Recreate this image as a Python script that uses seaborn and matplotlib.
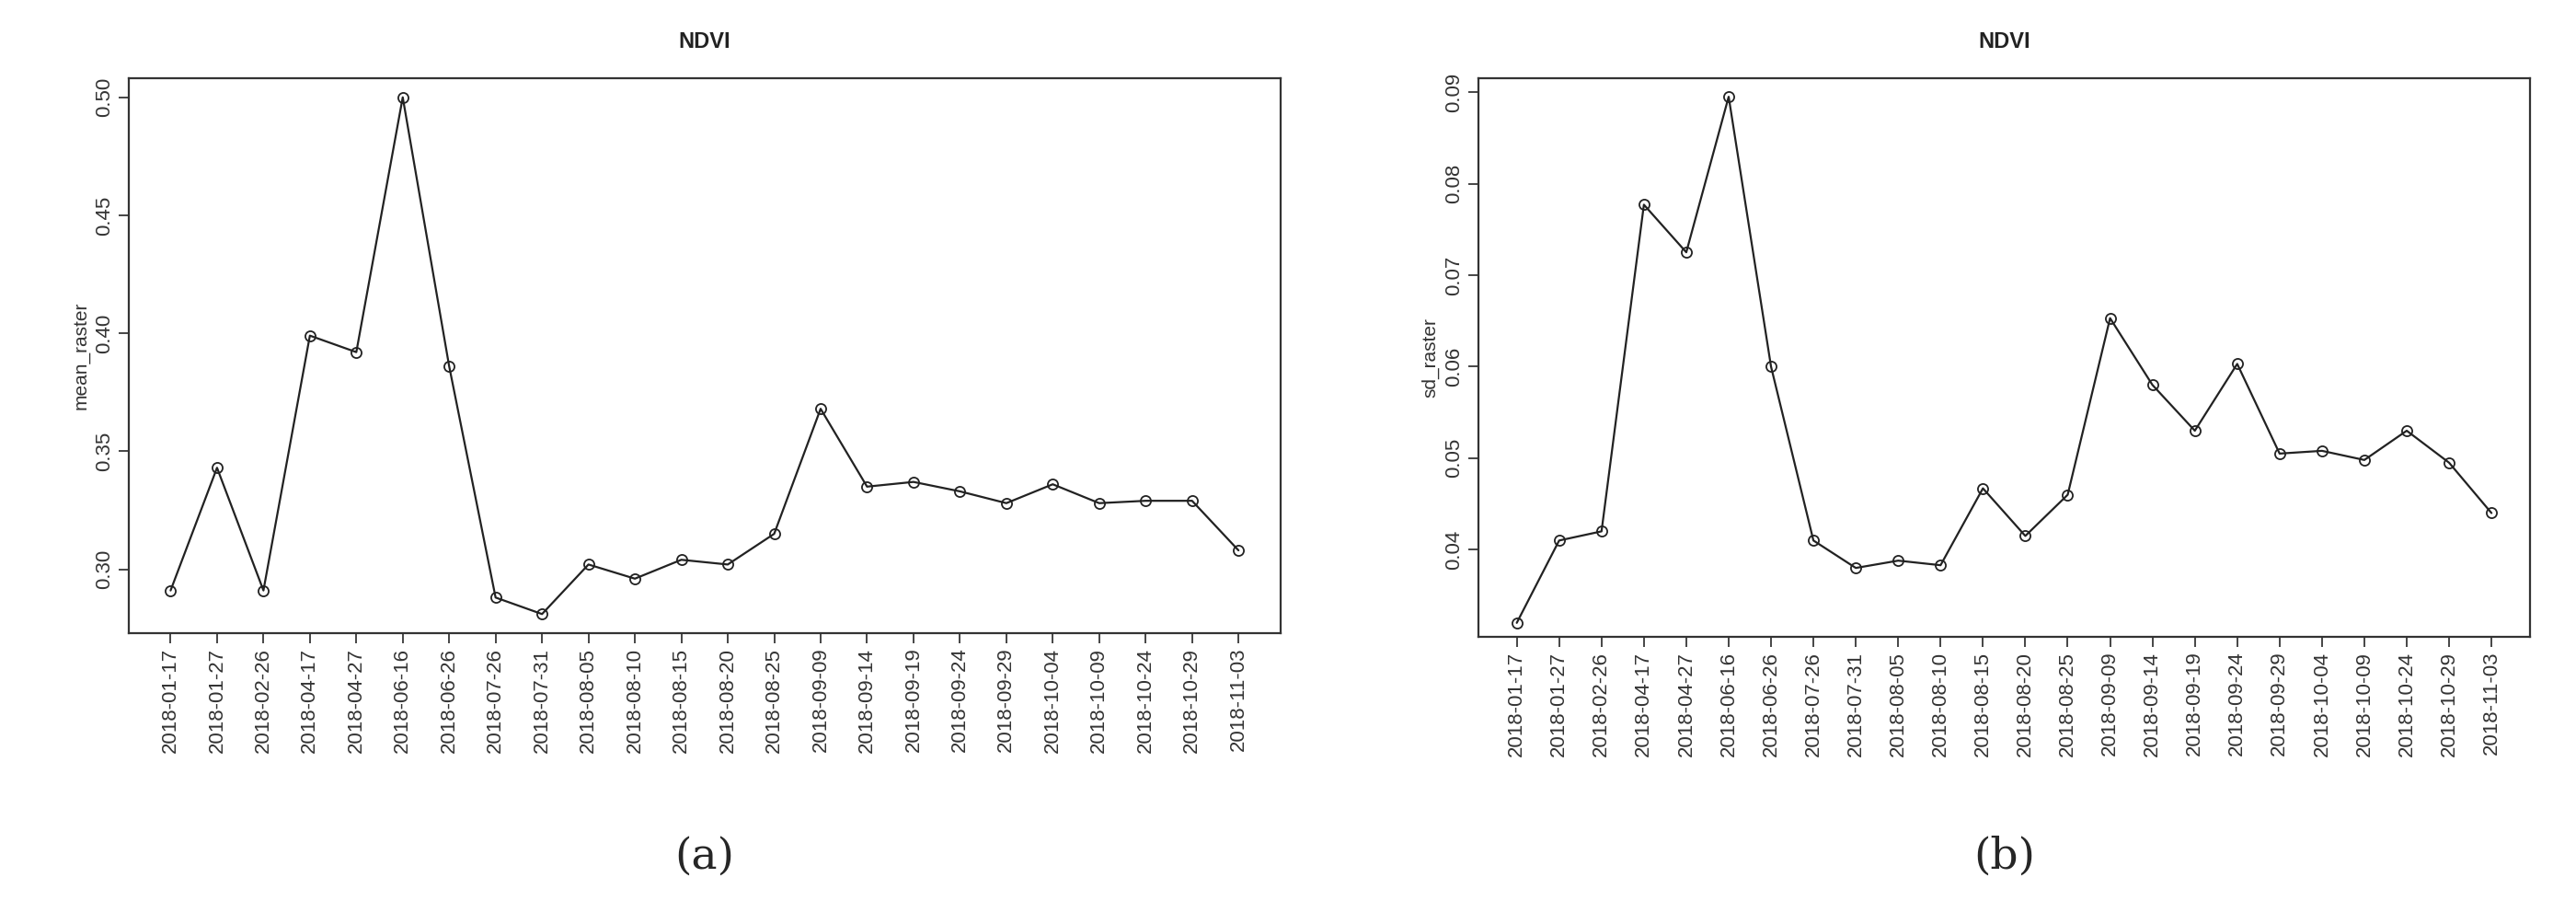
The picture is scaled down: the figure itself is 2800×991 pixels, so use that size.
import pandas as pd
import matplotlib
matplotlib.use("Agg")
import matplotlib.pyplot as plt
import seaborn as sns

# ---------- DATA ----------
DATES = ["2018-01-17", "2018-01-27", "2018-02-26", "2018-04-17", "2018-04-27",
         "2018-06-16", "2018-06-26", "2018-07-26", "2018-07-31", "2018-08-05",
         "2018-08-10", "2018-08-15", "2018-08-20", "2018-08-25", "2018-09-09",
         "2018-09-14", "2018-09-19", "2018-09-24", "2018-09-29", "2018-10-04",
         "2018-10-09", "2018-10-24", "2018-10-29", "2018-11-03"]
MEAN_RASTER = [0.291, 0.343, 0.291, 0.399, 0.392, 0.500, 0.386, 0.288, 0.281, 0.302,
               0.296, 0.304, 0.302, 0.315, 0.368, 0.335, 0.337, 0.333, 0.328, 0.336,
               0.328, 0.329, 0.329, 0.308]
SD_RASTER = [0.032, 0.041, 0.042, 0.0777, 0.0725, 0.0895, 0.060, 0.041, 0.038, 0.0388,
             0.0383, 0.0467, 0.0415, 0.046, 0.0653, 0.058, 0.053, 0.0603, 0.0505, 0.0508,
             0.0498, 0.053, 0.0495, 0.044]
MEAN_TICKS = [0.30, 0.35, 0.40, 0.45, 0.50]
SD_TICKS = [0.03, 0.04, 0.05, 0.06, 0.07, 0.08, 0.09]
# --------------------------

sns.set_style("ticks")
plt.rcParams['font.family'] = ['Liberation Sans', 'DejaVu Sans']

df = pd.DataFrame({"idx": range(len(DATES)), "date": DATES,
                   "mean_raster": MEAN_RASTER, "sd_raster": SD_RASTER})

fig = plt.figure(figsize=(28, 9.91), dpi=100)
ax_a = fig.add_axes([0.050, 0.306, 0.447, 0.608])
ax_b = fig.add_axes([0.574, 0.302, 0.408, 0.612])

panels = [(ax_a, "mean_raster", MEAN_TICKS, "(a)"),
          (ax_b, "sd_raster", SD_TICKS, "(b)")]
for ax, col, ticks, cap in panels:
    sns.lineplot(data=df, x="idx", y=col, ax=ax, color="#222222", lw=1.6,
                 marker="o", markersize=8, markerfacecolor="none",
                 markeredgecolor="#222222", markeredgewidth=1.3)
    ax.set_xticks(df["idx"])
    ax.set_xticklabels(DATES, rotation=90, fontsize=16, color="#333333")
    ax.set_yticks(ticks)
    ax.set_yticklabels([f"{t:.2f}" for t in ticks], rotation=90, va="center",
                       fontsize=16, color="#333333")
    ax.set_xlim(-0.9, len(DATES) - 0.1)
    ax.set_ylabel(col, fontsize=15, color="#333333")
    ax.set_xlabel("")
    ax.set_title("NDVI", fontsize=17, fontweight="bold", pad=24, color="#222222")
    for s in ax.spines.values():
        s.set_linewidth(1.6)
        s.set_color("#333333")
    ax.tick_params(length=8, width=1.2)
    pos = ax.get_position()
    fig.text((pos.x0 + pos.x1) / 2, 0.06, cap, ha="center", va="center",
             fontsize=34, family="DejaVu Serif")

ax_a.set_ylim(0.273, 0.508)
ax_b.set_ylim(0.0305, 0.0915)

fig.savefig("out.png", dpi=100)
